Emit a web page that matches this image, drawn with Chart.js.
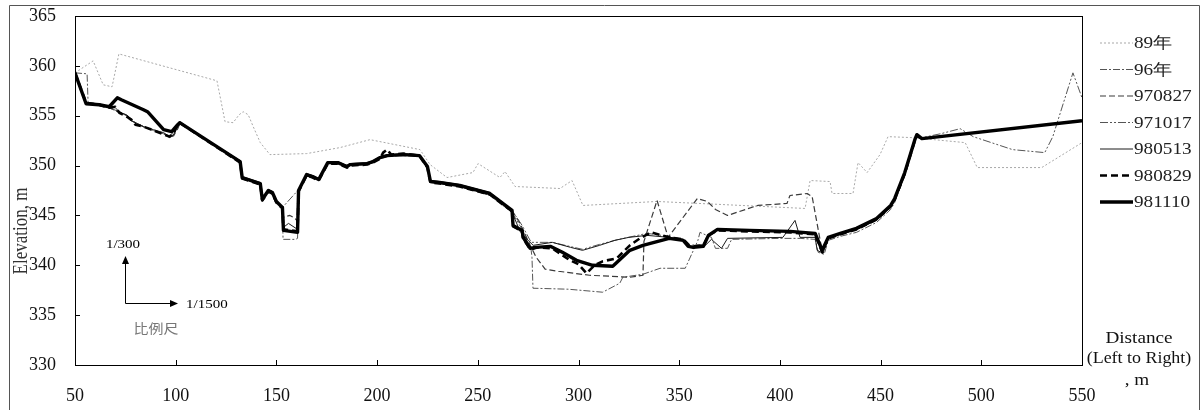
<!DOCTYPE html>
<html>
<head>
<meta charset="utf-8">
<script src="https://cdn.jsdelivr.net/npm/chart.js@4.4.1/dist/chart.umd.min.js"></script>
<style>
  html, body { margin: 0; padding: 0; background: #fff; }
  #wrap { width: 1203px; height: 410px; }
</style>
</head>
<body>
<div id="wrap"><canvas id="xsec"></canvas></div>
<script>
// cross-section surveys, [distance m, elevation m]
const s89 = [[50,359.3],[59,360.5],[64,358.1],[68.4,357.9],[71.8,361.2],[120.5,358.5],[124.5,354.4],[128.5,354.3],[131.5,355.1],[133.5,355.4],[136,355.1],[138.5,353.9],[142,352.3],[146.8,351.1],[165,351.2],[181.5,351.8],[196.5,352.6],[221.3,351.6],[226.3,350.1],[234.7,348.8],[247.6,349.3],[250.1,350.2],[261,348.8],[263.5,349.4],[268.5,347.9],[290.8,347.7],[296.8,348.5],[302.2,346.0],[339,346.4],[412.5,345.7],[415,348.5],[424.9,348.4],[425.9,347.2],[436.3,347.2],[438.8,350.3],[443.3,349.3],[449.7,351.1],[453.7,352.9],[466,352.8],[492,352.3],[498,349.8],[530,349.8],[550,352.3]];

const s96 = [[50,359.3],[56,359.2],[56.5,356.3],[62,356.1],[67,355.8],[72,355.4],[76,355.0],[78,354.5],[84,353.9],[89,353.5],[94,353.2],[97,352.8],[99,353.1],[101,353.8],[102,354.3],[132,350.4],[133,348.8],[142,348.2],[143,346.6],[146,347.5],[148,347.3],[150,346.4],[153,345.6],[153.3,342.6],[159.5,342.6],[160.5,342.7],[161,347.3],[165,349.0],[168,348.8],[171,348.5],[175.5,350.2],[180.5,350.2],[185,349.8],[186.5,350.0],[195,350.1],[198,350.3],[201.5,350.7],[205,350.9],[213,351.0],[221,350.9],[225,349.8],[226.5,348.3],[231,348.2],[241,347.9],[256,347.0],[267,345.3],[272,343.6],[276.5,341.5],[276.9,340.8],[277.4,337.7],[295,337.6],[312,337.3],[320.5,338.2],[322,338.8],[332,339.1],[340.5,339.7],[353,339.7],[359.3,342.5],[360.3,343.3],[366,342.8],[368,341.7],[374,341.7],[376,342.6],[401,342.7],[410,342.7],[417.5,342.6],[419,341.3],[422,341.1],[424,342.5],[430,342.9],[438,343.3],[448,344.3],[455,345.6],[457,346.3],[462,349.0],[467,352.4],[468,353.0],[470.5,352.8]];

const s970827 = [[50,359.3],[55.5,356.3],[62,356.1],[67,355.8],[72,355.4],[76,355.0],[78,354.5],[84,353.9],[89,353.5],[94,353.2],[97,352.8],[99,353.0],[101,353.7],[102,354.2],[132,350.4],[133,348.7],[142,348.2],[143,346.5],[146,347.5],[148,347.3],[150,346.4],[153,345.8],[153.3,344.8],[156.7,345.0],[159.2,344.7],[160.5,344.4],[161,347.5],[165,349.1],[168,348.9],[171,348.6],[175.5,350.3],[180.5,350.3],[185,349.9],[186.5,350.1],[195,350.2],[198,350.4],[201.5,350.8],[205,351],[213,351.1],[221,351],[225,349.9],[226.5,348.4],[231,348.3],[241,348],[256,347.2],[267,345.5],[271,344.2],[276,342.0],[279,340.8],[283.5,339.6],[290,339.4],[305.5,339.0],[325.5,338.8],[332,339.0],[332.5,342.4],[339,346.5],[344.5,342.8],[359,346.7],[364,346.4],[368,345.6],[374,345.0],[389,346.0],[403.5,346.2],[405,347.0],[413.5,347.2],[416,346.9],[421,341.4],[424,342.8],[430,343.1],[438,343.6],[448,344.6],[455,345.9],[457,346.6],[462,349.2],[467,352.5],[468,353.0],[470.5,352.7]];

const s971017 = [[50,359.3],[55.5,356.2],[62,356.1],[67,355.8],[72,355.3],[76,355.0],[78,354.5],[84,353.9],[89,353.5],[94,353.2],[97,352.9],[100.5,353.8],[102,354.3],[132,350.4],[133,348.8],[142,348.2],[143,346.6],[146,347.5],[148,347.3],[150,346.4],[153,345.8],[161.5,347.7],[165,349.1],[168,348.9],[171,348.6],[175.5,350.3],[180.5,350.3],[185,349.9],[186.5,350.1],[195,350.2],[198,350.4],[201.5,350.8],[205,351],[213,351.1],[221,351],[225,349.9],[226.5,348.4],[231,348.3],[241,348],[256,347.2],[262.5,346.3],[268,345.2],[272,344.0],[276.5,342.3],[287,342.3],[302,341.6],[310.5,342.1],[320,342.6],[334,343.2],[345,342.9],[352,342.6],[355,342.0],[362,342.1],[364.5,343.1],[369,343.6],[385,343.5],[405,343.4],[417.5,343.2],[421,341.4],[424,342.8],[430,343.2],[438,343.6],[448,344.6],[455,345.9],[457,346.6],[462,349.2],[467,352.5],[468,353.0],[470.5,352.8],[480,353.2],[489.5,353.7],[496,352.9],[515.5,351.6],[531.5,351.3],[535.5,352.9],[545.5,359.3],[550,356.8]];

const s980513 = [[50,359.4],[55.5,356.3],[62,356.2],[67,355.9],[70,355.8],[72.5,355.3],[75.5,355.1],[77,354.6],[79,354.4],[84,353.9],[89,353.6],[94,353.3],[97,352.9],[99,353.1],[100.5,353.8],[102,354.3],[132,350.5],[133,348.9],[142,348.3],[143,346.7],[146,347.6],[148,347.4],[150,346.5],[153,345.9],[153.5,343.8],[156,344.2],[160.5,343.6],[161,347.6],[165,349.2],[168,349.0],[171,348.7],[175.5,350.4],[180.5,350.4],[185,350.0],[186.5,350.2],[195,350.3],[198,350.5],[201.5,350.9],[205,351.1],[213,351.2],[221,351.1],[225,350.0],[226.5,348.5],[231,348.4],[241,348.1],[256,347.3],[262.5,346.3],[267,345.3],[271,343.4],[275,342.5],[277.5,342.0],[287,342.3],[296,341.8],[302,341.5],[310.5,342.0],[318,342.5],[325,342.8],[334,343.0],[345,342.8],[352,342.6],[355,341.9],[358,341.9],[363,342.0],[366,342.6],[371,341.7],[374,342.7],[401.5,342.8],[407.5,344.5],[410,342.8],[417.5,342.8],[418.5,341.5],[421.5,341.2],[423.5,342.7],[430,343.1],[438,343.6],[448,344.5],[455,345.8],[457,346.5],[462,349.1],[467,352.4],[468,353.0],[470.5,352.7]];

const s980829 = [[50,359.3],[55.5,356.3],[62,356.1],[67,355.8],[70,355.9],[72,355.3],[75,355.0],[78,354.6],[80,354.1],[84,353.9],[88,353.6],[93,353.2],[97,352.9],[99,353.3],[100.5,353.9],[102,354.3],[132,350.3],[133,348.7],[142,348.1],[143,346.5],[146,347.4],[148,347.2],[150,346.3],[153,345.7],[153.5,343.6],[160.5,343.4],[161,347.4],[165,349.0],[168,348.8],[171,348.5],[175.5,350.2],[180.5,350.2],[185,349.8],[186.5,350.0],[195,350.1],[198,350.3],[201.5,350.7],[203,351.3],[205,351.6],[207,351.1],[213,351.2],[221,351.0],[225,349.8],[226.5,348.3],[231,348.2],[241,347.9],[256,347.1],[267,345.4],[267.5,343.9],[272,343.4],[272.5,342.7],[276,341.6],[280,341.8],[287,341.7],[295,340.6],[300,340.1],[304,339.2],[308,340.0],[312,340.4],[319,340.7],[325.5,342.0],[330.5,342.7],[336,343.3],[345,342.8],[352,342.6],[355,342.0],[358,341.9],[362,342.0],[364.5,343.0],[369,343.5],[385,343.4],[405,343.3],[417.5,343.1],[421,341.3],[424,342.7],[430,343.1],[438,343.6],[448,344.6],[455,345.9],[457,346.6],[462,349.2],[467,352.5],[468,353.0],[470.5,352.7]];

const s981110 = [[50,359.3],[55.5,356.2],[62,356.1],[67,355.9],[71,356.8],[73,356.6],[84,355.6],[86,355.4],[94,353.6],[98,353.4],[101,354.1],[102,354.3],[132,350.4],[133,348.8],[142,348.2],[143,346.6],[146,347.5],[148,347.3],[150,346.4],[153,345.8],[153.5,343.5],[160.5,343.3],[161,347.5],[165,349.1],[168,348.9],[171,348.6],[175.5,350.3],[180.5,350.3],[185,349.9],[186.5,350.1],[195,350.2],[198,350.4],[201.5,350.8],[205,351],[213,351.1],[221,351],[225,349.9],[226.5,348.4],[231,348.3],[241,348],[256,347.2],[267,345.5],[267.5,344],[272,343.5],[272.5,342.8],[276,341.7],[278.5,341.8],[286,341.9],[292,341.3],[299,340.5],[307,340],[317,339.9],[325.5,341.5],[332,342],[345,342.7],[352,342.5],[354.5,341.9],[357,341.8],[362,341.9],[364.5,343],[369,343.6],[385,343.5],[405,343.4],[417.5,343.2],[421,341.5],[424,342.8],[430,343.2],[438,343.7],[448,344.7],[455,346],[457,346.7],[462,349.3],[467,352.6],[468,353.1],[470.5,352.7],[550,354.5]];

const seriesNames = ['89年', '96年', '970827', '971017', '980513', '980829', '981110'];
const seriesData = [s89, s96, s970827, s971017, s980513, s980829, s981110];

const xTitle = ['Distance', '(Left to Right)', ', m'];
const yTitle = 'Elevation, m';

const SERIF = "'Liberation Serif', 'Times New Roman', serif";

const STYLES = [
  { color: '#a8a8a8', width: 1, dash: [2, 2] },
  { color: '#555555', width: 1, dash: [7, 2, 2, 2] },
  { color: '#3a3a3a', width: 1.2, dash: [6, 3] },
  { color: '#555555', width: 1, dash: [8, 2, 2, 2, 2, 2] },
  { color: '#1a1a1a', width: 1, dash: [] },
  { color: '#000000', width: 2.6, dash: [7, 4] },
  { color: '#000000', width: 3.4, dash: [] },
];

// outer frame, plot box, inner ticks, legend, titles and the scale sketch
const overlay = {
  id: 'overlay',
  afterDraw(chart) {
    const { ctx, chartArea: a, scales } = chart;
    const line = (x1, y1, x2, y2) => { ctx.beginPath(); ctx.moveTo(x1, y1); ctx.lineTo(x2, y2); ctx.stroke(); };
    const wide = (txt, x, y, align, sx) => {
      ctx.save(); ctx.translate(x, y); ctx.scale(sx, 1); ctx.textAlign = align; ctx.fillText(txt, 0, 0); ctx.restore();
    };
    ctx.save();
    ctx.setLineDash([]);
    ctx.lineWidth = 1;

    ctx.strokeStyle = '#555';
    line(9.5, 410, 9.5, 5.5); line(9.5, 5.5, 1199.5, 5.5); line(1199.5, 5.5, 1199.5, 410);

    ctx.strokeStyle = '#000';
    ctx.strokeRect(Math.round(a.left) + 0.5, Math.round(a.top) + 0.5, Math.round(a.width), Math.round(a.height));
    scales.y.ticks.forEach((t) => {
      const py = Math.round(scales.y.getPixelForValue(t.value)) + 0.5;
      line(a.left, py, a.left + 5, py);
    });
    scales.x.ticks.forEach((t) => {
      const px = Math.round(scales.x.getPixelForValue(t.value)) + 0.5;
      line(px, a.bottom, px, a.bottom - 5);
    });

    // legend
    ctx.font = '16px ' + SERIF;
    ctx.textBaseline = 'middle';
    ctx.fillStyle = '#222';
    seriesNames.forEach((name, i) => {
      const ly = 43 + i * 26.5;
      const st = STYLES[i];
      ctx.strokeStyle = st.color; ctx.lineWidth = st.width; ctx.setLineDash(st.dash);
      line(1100, ly, 1133, ly);
      wide(name, 1134, ly + 1, 'left', 1.2);
    });
    ctx.setLineDash([]);

    // axis titles
    ctx.fillStyle = '#111';
    ctx.font = '16px ' + SERIF;
    wide(xTitle[0], 1139, 339, 'center', 1.2);
    wide(xTitle[1], 1139, 359, 'center', 1.12);
    wide(xTitle[2], 1137, 381, 'center', 1.2);
    ctx.save();
    ctx.translate(22, 231); ctx.rotate(-Math.PI / 2);
    ctx.fillStyle = '#333'; ctx.textAlign = 'center'; ctx.font = '17px ' + SERIF;
    ctx.scale(1, 1.2);
    ctx.fillText(yTitle, 0, 0);
    ctx.restore();

    // scale sketch
    ctx.strokeStyle = '#000'; ctx.fillStyle = '#000'; ctx.lineWidth = 1;
    line(125.5, 303.5, 125.5, 262); line(125.5, 303.5, 172, 303.5);
    ctx.beginPath(); ctx.moveTo(125.5, 256); ctx.lineTo(122, 264); ctx.lineTo(129, 264); ctx.closePath(); ctx.fill();
    ctx.beginPath(); ctx.moveTo(178, 303.5); ctx.lineTo(170, 300); ctx.lineTo(170, 307); ctx.closePath(); ctx.fill();
    ctx.font = '12px ' + SERIF;
    wide('1/300', 123, 245, 'center', 1.25);
    wide('1/1500', 186, 305, 'left', 1.25);
    ctx.fillStyle = '#777';
    ctx.font = '13px "Noto Sans CJK TC", "Noto Sans CJK SC", sans-serif';
    wide('比例尺', 156, 328, 'center', 1.15);
    ctx.restore();
  },
};

const datasets = seriesData.map((pts, i) => ({
  label: seriesNames[i],
  data: pts.map(([x, y]) => ({ x, y })),
  borderColor: STYLES[i].color,
  borderWidth: STYLES[i].width,
  borderDash: STYLES[i].dash,
  borderJoinStyle: 'round',
  pointRadius: 0,
  fill: false,
  tension: 0,
  order: seriesNames.length - i,
}));

new Chart(document.getElementById('xsec').getContext('2d'), {
  type: 'line',
  data: { datasets },
  options: {
    responsive: true,
    maintainAspectRatio: false,
    animation: false,
    layout: { padding: { top: 16, right: 121, left: 0, bottom: 0 } },
    plugins: { legend: { display: false }, tooltip: { enabled: false } },
    scales: {
      x: {
        type: 'linear', min: 50, max: 550,
        grid: { display: false, drawTicks: false },
        border: { display: false },
        ticks: { stepSize: 50, padding: 20, color: '#111', font: { family: SERIF, size: 18 } },
        afterFit: (s) => { s.height = 45; },
      },
      y: {
        min: 330, max: 365,
        grid: { display: false, drawTicks: false },
        border: { display: false },
        ticks: { stepSize: 5, padding: 19, color: '#111', font: { family: SERIF, size: 18 } },
        afterFit: (s) => { s.width = 75; s.paddingTop = 0; s.paddingBottom = 0; },
      },
    },
  },
  plugins: [overlay],
});
</script>
</body>
</html>
